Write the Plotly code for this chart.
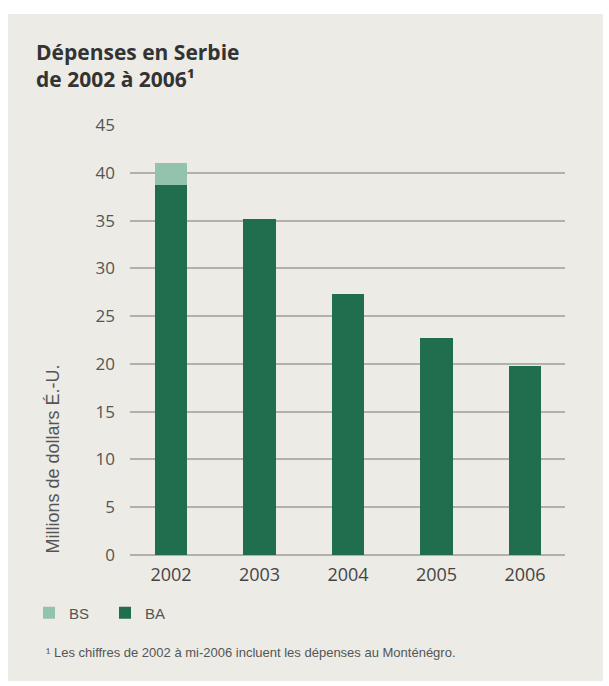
import plotly.graph_objects as go

years = ["2002", "2003", "2004", "2005", "2006"]
ba_values = [38.7, 35.2, 27.3, 22.7, 19.8]
bs_values = [2.3, 0, 0, 0, 0]
y_ticks = [0, 5, 10, 15, 20, 25, 30, 35, 40, 45]

W, H = 609, 686
L, R, T, B = 130, 44, 125, 131
PW, PH = W - L - R, H - T - B

def px(x):
    return (x - L) / PW

def py(y):
    return (H - B - y) / PH

BA_COLOR = "#216e4f"
BS_COLOR = "#93c3ab"
FONT_NARROW = "Liberation Sans Narrow, Arial Narrow, Liberation Sans, Arial"
FONT_MAIN = "Open Sans, Liberation Sans, Arial"

fig = go.Figure()
fig.add_trace(go.Bar(x=years, y=ba_values, name="BA", marker=dict(color=BA_COLOR, line=dict(width=0)), width=0.37))
fig.add_trace(go.Bar(x=years, y=bs_values, name="BS", marker=dict(color=BS_COLOR, line=dict(width=0)), width=0.37))

fig.update_layout(
    width=W, height=H,
    margin=dict(l=L, r=R, t=T, b=B),
    barmode="stack",
    paper_bgcolor="white",
    plot_bgcolor="rgba(0,0,0,0)",
    showlegend=True,
    legend=dict(
        orientation="h", traceorder="reversed",
        x=px(29), y=py(613), xanchor="left", yanchor="middle",
        entrywidth=31, entrywidthmode="pixels",
        font=dict(family=FONT_NARROW, size=15, color="#555"),
        bgcolor="rgba(0,0,0,0)",
    ),
    font=dict(family=FONT_MAIN),
)

fig.update_xaxes(
    type="category", range=[-0.463, 4.452],
    showgrid=False, showline=False, zeroline=False, ticks="",
    tickfont=dict(family=FONT_MAIN, size=18, color="#444"),
    ticklabelstandoff=7,
)
fig.update_yaxes(
    range=[0, 45], tickvals=y_ticks,
    showgrid=True, gridcolor="#b3b0aa", gridwidth=1.5,
    zeroline=True, zerolinecolor="#b3b0aa", zerolinewidth=1.5,
    showline=False, ticks="",
    tickfont=dict(family=FONT_MAIN, size=17, color="#555"),
    ticklabelstandoff=14,
)

# textured panel background
fig.add_shape(type="rect", xref="paper", yref="paper",
              x0=px(8), x1=px(603), y0=py(681), y1=py(14),
              fillcolor="#ecebe6", line=dict(width=0), layer="below")

fig.add_annotation(
    xref="paper", yref="paper", x=px(34), y=py(36), xanchor="left", yanchor="top",
    text="<b>Dépenses en Serbie<br>de 2002 à 2006¹</b>", showarrow=False, align="left",
    font=dict(family="Open Sans, Noto Sans, Arial", size=21, color="#333"),
)
fig.add_annotation(
    xref="paper", yref="paper", x=px(52), y=py(556), xanchor="center", yanchor="bottom",
    text="Millions de dollars É.-U.", textangle=-90, showarrow=False,
    font=dict(family=FONT_NARROW, size=18, color="#555"),
)
fig.add_annotation(
    xref="paper", yref="paper", x=px(44), y=py(652), xanchor="left", yanchor="middle",
    text="¹ Les chiffres de 2002 à mi-2006 incluent les dépenses au Monténégro.",
    showarrow=False, align="left",
    font=dict(family=FONT_NARROW, size=13, color="#555"),
)

fig.write_html("out.html", config={"displayModeBar": False},
               post_script="document.body.style.margin='0px';")
